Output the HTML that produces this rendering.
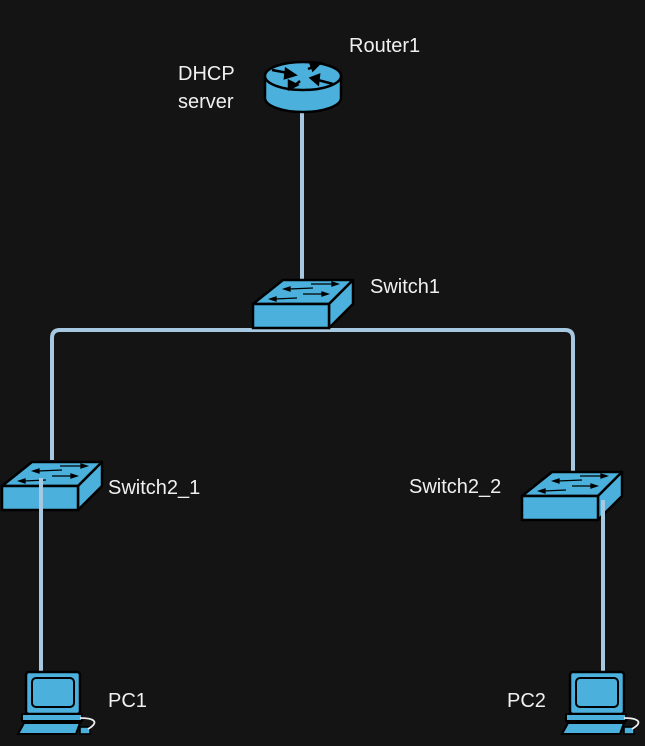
<!DOCTYPE html>
<html><head><style>
html,body{margin:0;padding:0;background:#141414;}
svg{display:block}
text{font-family:"Liberation Sans",sans-serif;font-size:20px;fill:#f0f0f0}
</style></head><body>
<svg width="645" height="746" viewBox="0 0 645 746" xmlns="http://www.w3.org/2000/svg">
<defs>
<g id="sw">
<path d="M0,24 L30,0 L100,0 L76,24 Z" fill="#4bb0dc" stroke="#000" stroke-width="2.5" stroke-linejoin="round"/>
<path d="M76,24 L100,0 L100,24 L76,48 Z" fill="#4bb0dc" stroke="#000" stroke-width="2.5" stroke-linejoin="round"/>
<rect x="0" y="24" width="76" height="24" fill="#4bb0dc" stroke="#000" stroke-width="2.5"/>
<g stroke="#000" stroke-width="1.3" fill="#000">
<line x1="36" y1="9" x2="60" y2="8"/><polygon points="31,9 37,7 37,11"/>
<line x1="58" y1="4" x2="80" y2="4"/><polygon points="85,4 79,2 79,6"/>
<line x1="22" y1="19" x2="44" y2="18"/><polygon points="17,19 23,17 23,21"/>
<line x1="50" y1="14" x2="70" y2="14"/><polygon points="75,14 69,12 69,16"/>
</g>
</g>
<g id="pc">
<rect x="10" y="0" width="54" height="42" rx="3" fill="#4bb0dc" stroke="#000" stroke-width="2.5"/>
<rect x="16" y="6" width="42" height="29" rx="4" fill="#4bb0dc" stroke="#000" stroke-width="2"/>
<rect x="6" y="42" width="60" height="7" fill="#4bb0dc" stroke="#000" stroke-width="2"/>
<path d="M2,62 L8,51 L64,51 L60,62 Z" fill="#4bb0dc" stroke="#000" stroke-width="2"/>
<rect x="64" y="55" width="10" height="7" fill="#4bb0dc" stroke="#000" stroke-width="1.6"/>
<path d="M64,46 C78,46 84,50 72,57" fill="none" stroke="#eee" stroke-width="1.8"/>
</g>
</defs>
<g stroke="#a6c8e0" stroke-width="4" fill="none">
<line x1="302" y1="110" x2="302" y2="282"/>
<path d="M52,460 L52,338 Q52,330 60,330 L565,330 Q573,330 573,338 L573,472"/>
</g>
<path d="M265,76 L265,98 A38,14 0 0 0 341,98 L341,76 Z" fill="#4bb0dc" stroke="#000" stroke-width="2.5"/>
<ellipse cx="303" cy="76" rx="38" ry="14" fill="#4bb0dc" stroke="#000" stroke-width="2.5"/>
<g stroke="#000" stroke-width="2.5" fill="#000">
<line x1="272" y1="70" x2="288" y2="73"/><polygon points="295,75 286,69 285,78"/>
<line x1="318" y1="65" x2="308" y2="69"/><polygon points="320,63 310,62 313,70"/>
<line x1="333" y1="84" x2="318" y2="80"/><polygon points="311,78 319,75 318,84"/>
<line x1="300" y1="81" x2="293" y2="87"/><polygon points="289,89 289,81 297,85"/>
</g>
<use href="#sw" x="253" y="280"/>
<use href="#sw" x="2" y="462"/>
<use href="#sw" x="522" y="472"/>
<g stroke="#a6c8e0" stroke-width="4" fill="none">
<line x1="41" y1="478" x2="41" y2="672"/>
<line x1="603" y1="500" x2="603" y2="672"/>
</g>
<use href="#pc" x="16" y="672"/>
<use href="#pc" x="560" y="672"/>
<text x="349" y="52">Router1</text>
<text x="178" y="80">DHCP</text>
<text x="178" y="108">server</text>
<text x="370" y="293">Switch1</text>
<text x="108" y="494">Switch2_1</text>
<text x="409" y="493">Switch2_2</text>
<text x="108" y="707">PC1</text>
<text x="507" y="707">PC2</text>
</svg>
</body></html>
